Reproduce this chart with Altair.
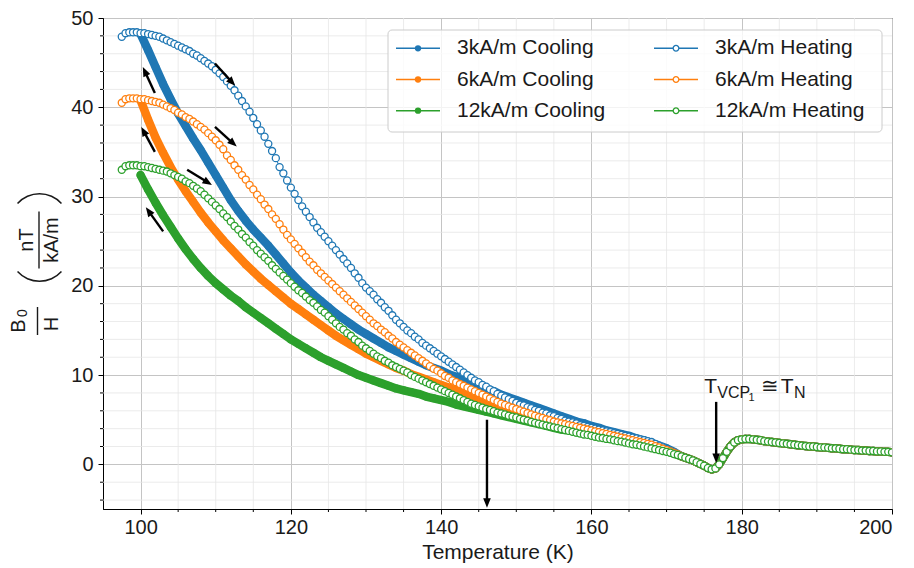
import math
import altair as alt
import pandas as pd

BLUE, ORANGE, GREEN = "#1f77b4", "#ff7f0e", "#2ca02c"
FONT = "Liberation Sans"
INK = "#1a1a1a"

# ---------------------------------------------------------------- data
# Temperature grids (K)
t_heat = [97.5 + 0.5 * i for i in range(149)]     # heating runs, 97.5 ... 171.5
t_cool = list(range(100, 172))                    # cooling runs, 100 ... 171
t_tail = [172.0 + 0.5 * i for i in range(57)]     # common part, 172 ... 200

# B0/H in nT/(kA/m) above 172 K, where all six runs coincide
tail = [
    0.9, 0.75, 0.6, 0.45, 0.25, 0.05, -0.15, -0.4, -0.55, -0.45,
    0.0, 0.7, 1.4, 2.0, 2.45, 2.7, 2.8, 2.85, 2.85, 2.8,
    2.75, 2.7, 2.6, 2.55, 2.5, 2.45, 2.4, 2.35, 2.3, 2.25,
    2.2, 2.15, 2.1, 2.05, 2.0, 2.0, 1.95, 1.9, 1.9, 1.85,
    1.8, 1.8, 1.75, 1.7, 1.7, 1.65, 1.6, 1.6, 1.55, 1.55,
    1.5, 1.5, 1.45, 1.45, 1.4, 1.4, 1.35,
]

heat_3 = [
    47.9, 48.3, 48.4, 48.4, 48.4,
    48.3, 48.3, 48.2, 48.1, 48.0, 47.9, 47.7, 47.5, 47.3, 47.1,
    46.9, 46.7, 46.5, 46.3, 46.0, 45.8, 45.5, 45.2, 44.9, 44.6,
    44.2, 43.8, 43.4, 42.9, 42.4, 41.9, 41.3, 40.7, 40.1, 39.5,
    38.8, 38.1, 37.4, 36.7, 35.9, 35.1, 34.3, 33.3, 32.6, 31.8,
    31.0, 30.3, 29.6, 28.9, 28.3, 27.7, 27.1, 26.5, 26.0, 25.5,
    25.0, 24.5, 24.0, 23.5, 23.0, 22.5, 22.0, 21.4, 20.9, 20.3,
    19.8, 19.4, 19.0, 18.5, 18.1, 17.6, 17.2, 16.7, 16.2, 15.8,
    15.4, 15.0, 14.7, 14.3, 14.0, 13.6, 13.3, 13.0, 12.7, 12.4,
    12.1, 11.8, 11.5, 11.2, 10.9, 10.6, 10.3, 10.0, 9.7, 9.4,
    9.2, 8.9, 8.7, 8.4, 8.2, 7.9, 7.7, 7.5, 7.3, 7.1,
    6.9, 6.7, 6.6, 6.4, 6.3, 6.1, 6.0, 5.8, 5.7, 5.5,
    5.4, 5.2, 5.1, 4.9, 4.8, 4.7, 4.6, 4.4, 4.3, 4.2,
    4.1, 4.0, 3.9, 3.8, 3.7, 3.6, 3.5, 3.4, 3.3, 3.2,
    3.1, 3.0, 2.9, 2.8, 2.7, 2.6, 2.5, 2.3, 2.1, 1.9,
    1.7, 1.5, 1.3, 1.1,
]

heat_6 = [
    40.5, 40.9, 41.0, 41.0, 41.0,
    40.9, 40.9, 40.8, 40.7, 40.6, 40.5, 40.3, 40.1, 39.9, 39.7,
    39.4, 39.2, 38.9, 38.7, 38.4, 38.1, 37.8, 37.5, 37.1, 36.7,
    36.3, 35.8, 35.3, 34.6, 34.1, 33.5, 33.0, 32.4, 31.9, 31.3,
    30.8, 30.2, 29.7, 29.1, 28.6, 28.0, 27.5, 26.9, 26.3, 25.7,
    25.2, 24.7, 24.2, 23.7, 23.2, 22.7, 22.3, 21.8, 21.4, 21.0,
    20.6, 20.2, 19.8, 19.4, 19.0, 18.6, 18.2, 17.8, 17.4, 17.0,
    16.6, 16.2, 15.8, 15.5, 15.1, 14.8, 14.4, 14.1, 13.7, 13.4,
    13.1, 12.8, 12.5, 12.2, 11.9, 11.6, 11.3, 11.0, 10.7, 10.5,
    10.2, 9.9, 9.7, 9.4, 9.2, 9.0, 8.8, 8.6, 8.4, 8.2,
    8.0, 7.8, 7.6, 7.4, 7.2, 7.0, 6.8, 6.65, 6.5, 6.35,
    6.2, 6.05, 5.9, 5.75, 5.6, 5.45, 5.3, 5.2, 5.05, 4.95,
    4.8, 4.7, 4.6, 4.5, 4.4, 4.3, 4.2, 4.1, 4.0, 3.9,
    3.8, 3.7, 3.6, 3.5, 3.4, 3.3, 3.2, 3.1, 3.0, 2.9,
    2.8, 2.7, 2.6, 2.5, 2.4, 2.3, 2.2, 2.05, 1.9, 1.75,
    1.6, 1.45, 1.25, 1.1,
]

heat_12 = [
    33.0, 33.4, 33.5, 33.5, 33.5,
    33.4, 33.4, 33.3, 33.2, 33.1, 33.0, 32.9, 32.8, 32.6, 32.4,
    32.2, 32.0, 31.7, 31.5, 31.2, 30.9, 30.6, 30.2, 29.8, 29.4,
    29.0, 28.6, 28.1, 27.7, 27.2, 26.7, 26.3, 25.8, 25.4, 24.9,
    24.5, 24.0, 23.6, 23.2, 22.8, 22.3, 21.9, 21.5, 21.1, 20.7,
    20.3, 19.9, 19.5, 19.2, 18.8, 18.4, 18.1, 17.7, 17.3, 17.0,
    16.6, 16.2, 15.8, 15.4, 15.1, 14.7, 14.4, 14.0, 13.7, 13.3,
    13.0, 12.7, 12.4, 12.1, 11.9, 11.6, 11.4, 11.1, 10.9, 10.7,
    10.5, 10.3, 10.0, 9.8, 9.6, 9.4, 9.2, 9.0, 8.8, 8.6,
    8.4, 8.2, 8.0, 7.8, 7.6, 7.4, 7.2, 7.0, 6.8, 6.65,
    6.5, 6.35, 6.2, 6.1, 5.95, 5.8, 5.7, 5.6, 5.45, 5.35,
    5.25, 5.1, 5.0, 4.9, 4.75, 4.65, 4.55, 4.45, 4.35, 4.25,
    4.15, 4.05, 3.95, 3.85, 3.75, 3.65, 3.55, 3.45, 3.35, 3.3,
    3.2, 3.1, 3.0, 2.95, 2.85, 2.8, 2.7, 2.6, 2.55, 2.45,
    2.35, 2.25, 2.2, 2.1, 2.0, 1.9, 1.8, 1.7, 1.6, 1.5,
    1.4, 1.3, 1.15, 1.05,
]

cool_3 = [
    48.2, 46.4, 44.5, 42.6, 40.9, 39.3, 37.9, 36.5, 35.2, 33.8,
    32.4, 31.0, 29.6, 28.4, 27.3, 26.3, 25.4, 24.5, 23.5, 22.5,
    21.5, 20.6, 19.8, 19.0, 18.3, 17.6, 16.9, 16.3, 15.7, 15.1,
    14.6, 14.1, 13.6, 13.1, 12.7, 12.3, 11.9, 11.5, 11.1, 10.8,
    10.5, 10.1, 9.8, 9.5, 9.2, 8.8, 8.5, 8.2, 7.8, 7.5,
    7.2, 6.9, 6.6, 6.3, 6.0, 5.7, 5.4, 5.1, 4.8, 4.6,
    4.3, 4.1, 3.8, 3.6, 3.4, 3.2, 2.9, 2.7, 2.4, 2.1,
    1.8, 1.4,
]

cool_6 = [
    40.8, 38.6, 36.6, 34.9, 33.3, 31.9, 30.6, 29.4, 28.2, 27.1,
    26.1, 25.1, 24.2, 23.3, 22.4, 21.6, 20.8, 20.1, 19.4, 18.7,
    18.0, 17.4, 16.8, 16.2, 15.6, 15.0, 14.4, 13.9, 13.4, 12.9,
    12.4, 12.0, 11.6, 11.2, 10.8, 10.5, 10.1, 9.8, 9.5, 9.2,
    8.9, 8.6, 8.3, 8.0, 7.7, 7.4, 7.1, 6.8, 6.5, 6.2,
    6.0, 5.7, 5.5, 5.2, 5.0, 4.8, 4.6, 4.4, 4.2, 4.0,
    3.8, 3.6, 3.4, 3.2, 3.0, 2.8, 2.6, 2.4, 2.2, 1.9,
    1.6, 1.3,
]

cool_12 = [
    32.4, 30.8, 29.3, 27.9, 26.6, 25.3, 24.1, 23.0, 22.0, 21.1,
    20.3, 19.6, 18.9, 18.3, 17.6, 17.0, 16.4, 15.8, 15.2, 14.6,
    14.0, 13.5, 13.0, 12.5, 12.0, 11.6, 11.2, 10.8, 10.4, 10.0,
    9.7, 9.4, 9.1, 8.8, 8.5, 8.3, 8.1, 7.9, 7.6, 7.4,
    7.2, 7.0, 6.7, 6.5, 6.3, 6.1, 5.9, 5.7, 5.5, 5.3,
    5.1, 4.9, 4.7, 4.5, 4.3, 4.1, 3.9, 3.8, 3.6, 3.5,
    3.3, 3.2, 3.0, 2.9, 2.7, 2.6, 2.4, 2.2, 2.0, 1.8,
    1.5, 1.2,
]

series = [
    ("3kA/m Cooling", BLUE, True, t_cool, cool_3),
    ("6kA/m Cooling", ORANGE, True, t_cool, cool_6),
    ("12kA/m Cooling", GREEN, True, t_cool, cool_12),
    ("3kA/m Heating", BLUE, False, t_heat, heat_3),
    ("6kA/m Heating", ORANGE, False, t_heat, heat_6),
    ("12kA/m Heating", GREEN, False, t_heat, heat_12),
]

# direction arrows: (T start, B start, T tip, B tip)
arrow_x0 = [101.9, 101.9, 103.0, 109.9, 109.9, 106.2, 146.1, 176.6]
arrow_y0 = [41.6, 35.0, 26.1, 44.9, 37.8, 33.0, 5.0, 7.0]
arrow_x1 = [100.3, 100.1, 100.7, 112.6, 112.8, 109.5, 146.1, 176.6]
arrow_y1 = [44.5, 37.8, 28.8, 42.4, 35.6, 31.3, -4.85, 0.15]

major_x = [100, 120, 140, 160, 180, 200]
minor_x = [105, 110, 115, 125, 130, 135, 145, 150, 155, 165, 170, 175, 185, 190, 195]
major_y = [0, 10, 20, 30, 40, 50]
minor_y = [-4, -2, 2, 4, 6, 8, 12, 14, 16, 18, 22, 24, 26, 28,
           32, 34, 36, 38, 42, 44, 46, 48]

# ---------------------------------------------------------------- layout
W, H = 789, 491
X_DOM, Y_DOM = (95, 200), (-5, 50)
PXK = W / (X_DOM[1] - X_DOM[0])
PXB = H / (Y_DOM[1] - Y_DOM[0])

XS = alt.Scale(domain=list(X_DOM), nice=False, zero=False)
YS = alt.Scale(domain=list(Y_DOM), nice=False, zero=False)

common_axis = dict(
    grid=True, gridColor="#c4c4c4", gridWidth=1,
    domainColor="black", domainWidth=1,
    tickColor="black", tickSize=5, tickWidth=1,
    labelFont=FONT, labelFontSize=20, labelColor=INK,
    format="d",
)
X_AX = alt.Axis(values=major_x, title="Temperature (K)", labelPadding=3,
                titleFont=FONT, titleFontSize=21, titleFontWeight="normal",
                titleColor=INK, titlePadding=4, **common_axis)
Y_AX = alt.Axis(values=major_y, title=None, labelPadding=5, **common_axis)


def xq(f):
    return alt.X(f"{f}:Q", scale=XS, axis=X_AX)


def yq(f):
    return alt.Y(f"{f}:Q", scale=YS, axis=Y_AX)


def px(f):
    return alt.X(f"{f}:Q", scale=None)


def py(f):
    return alt.Y(f"{f}:Q", scale=None)


layers = []

# minor grid
layers.append(alt.Chart(pd.DataFrame({"v": minor_x}))
              .mark_rule(color="#e6e6e6", strokeWidth=0.8).encode(x=xq("v")))
layers.append(alt.Chart(pd.DataFrame({"v": minor_y}))
              .mark_rule(color="#e6e6e6", strokeWidth=0.8).encode(y=yq("v")))

# measured curves: cooling = dense filled markers, heating = open markers
for label, col, cooling, t, vals in series:
    df = pd.DataFrame({"T": list(t) + t_tail, "B": list(vals) + tail})
    base = alt.Chart(df).encode(x=xq("T"), y=yq("B"))
    if cooling:
        layers.append(base.mark_line(color=col, strokeWidth=8.5, strokeCap="round",
                                     strokeJoin="round", clip=True))
        layers.append(base.mark_circle(color=col, size=62, opacity=1, clip=True))
    else:
        layers.append(base.mark_line(color=col, strokeWidth=1, clip=True))
        layers.append(base.mark_point(shape="circle", fill="white", fillOpacity=1,
                                      stroke=col, strokeWidth=1.3, size=50,
                                      opacity=1, clip=True))

# arrows
rows = []
for x0, y0, x1, y1 in zip(arrow_x0, arrow_y0, arrow_x1, arrow_y1):
    dxp, dyp = (x1 - x0) * PXK, (y1 - y0) * PXB
    L = math.hypot(dxp, dyp)
    ang = math.degrees(math.atan2(dxp, dyp)) % 360
    rows.append(dict(x0=x0, y0=y0, x1=x1, y1=y1,
                     xe=x1 - dxp / L * 6 / PXK, ye=y1 - dyp / L * 6 / PXB, ang=ang))
arrows = pd.DataFrame(rows)
layers.append(alt.Chart(arrows).mark_rule(color="black", strokeWidth=2.4)
              .encode(x=xq("x0"), y=yq("y0"), x2="xe:Q", y2="ye:Q"))
layers.append(alt.Chart(arrows)
              .mark_point(shape="M0,0L0.8,2L-0.8,2Z", filled=True, color="black",
                          size=90, opacity=1)
              .encode(x=xq("x1"), y=yq("y1"), angle=alt.Angle("ang:Q", scale=None)))

# transition label  T_VCP1 ≅ T_N
ann = pd.DataFrame({
    "txt": ["T", "VCP", "1", "≅", "T", "N"],
    "T": [175.0, 176.75, 180.9, 182.5, 185.2, 186.95],
    "B": [8.0, 7.4, 7.05, 8.0, 8.0, 7.4],
    "fs": [21, 16, 11, 21, 21, 16],
})
layers.append(alt.Chart(ann).mark_text(align="left", baseline="alphabetic",
                                       font=FONT, color=INK)
              .encode(x=xq("T"), y=yq("B"), text="txt:N",
                      size=alt.Size("fs:Q", scale=None)))

# legend
one = pd.DataFrame({"k": [0]})
layers.append(alt.Chart(one).mark_rect(fill="white", fillOpacity=0.8, stroke="#cccccc",
                                       strokeWidth=1, cornerRadius=4)
              .encode(x=alt.value(285), x2=alt.value(779),
                      y=alt.value(12), y2=alt.value(114)))
leg_rows = [30.3, 61.5, 92.7]
leg_cols = [315, 573]
leg = pd.DataFrame([
    dict(label=s[0], col=s[1], filled=s[2],
         lx=leg_cols[i // 3], ly=leg_rows[i % 3],
         xa=leg_cols[i // 3] - 22, xb=leg_cols[i // 3] + 22,
         xt=leg_cols[i // 3] + 39)
    for i, s in enumerate(series)
])
layers.append(alt.Chart(leg).mark_rule(strokeWidth=1.5)
              .encode(x=px("xa"), x2="xb:Q", y=py("ly"),
                      color=alt.Color("col:N", scale=None)))
layers.append(alt.Chart(leg[leg.filled]).mark_circle(size=40, opacity=1)
              .encode(x=px("lx"), y=py("ly"), color=alt.Color("col:N", scale=None)))
layers.append(alt.Chart(leg[~leg.filled])
              .mark_point(shape="circle", fill="white", fillOpacity=1,
                          strokeWidth=1.3, size=32, opacity=1)
              .encode(x=px("lx"), y=py("ly"), stroke=alt.Stroke("col:N", scale=None)))
layers.append(alt.Chart(leg).mark_text(align="left", baseline="middle", font=FONT,
                                       fontSize=21, color=INK)
              .encode(x=px("xt"), y=py("ly"), text="label:N"))

# y-axis title:  B0/H  ( nT / kA/m )
ytxt = pd.DataFrame({
    "txt": ["B", "0", "H", "nT", "kA/m"],
    "px": [-84.5, -80.5, -51.5, -76.0, -51.0],
    "py": [308.0, 295.0, 306.0, 222.0, 222.0],
    "fs": [20, 14, 20, 20, 20],
})
layers.append(alt.Chart(ytxt).mark_text(angle=270, align="center", baseline="middle",
                                        font=FONT, color=INK)
              .encode(x=px("px"), y=py("py"), text="txt:N",
                      size=alt.Size("fs:Q", scale=None)))
bars = pd.DataFrame({"px": [-65.5, -64.0], "y0": [289.0, 193.5], "y1": [317.0, 250.5]})
layers.append(alt.Chart(bars).mark_rule(color=INK, strokeWidth=1.4)
              .encode(x=px("px"), y=py("y0"), y2="y1:Q"))
half = math.radians(48)
layers.append(alt.Chart(one).mark_arc(color=INK, radius=30.3, radius2=28.8,
                                      theta=math.pi - half, theta2=math.pi + half)
              .encode(x=alt.value(-63.5), y=alt.value(233.7)))
layers.append(alt.Chart(one).mark_arc(color=INK, radius=30.3, radius2=28.8,
                                      theta=2 * math.pi - half, theta2=2 * math.pi + half)
              .encode(x=alt.value(-63.5), y=alt.value(205.3)))

# minor ticks
layers.append(alt.Chart(pd.DataFrame({"v": minor_x})).mark_rule(color="black", strokeWidth=1)
              .encode(x=xq("v"), y=alt.value(H), y2=alt.value(H + 3)))
layers.append(alt.Chart(pd.DataFrame({"v": minor_y})).mark_rule(color="black", strokeWidth=1)
              .encode(y=yq("v"), x=alt.value(-3), x2=alt.value(0)))

chart = (
    alt.layer(*layers)
    .properties(width=W, height=H,
                padding={"left": 103, "top": 18, "right": 22, "bottom": 59},
                autosize=alt.AutoSizeParams(type="none"),
                background="white")
    .configure_view(stroke="black", strokeWidth=1)
)

chart.save("out.html", embed_options={"renderer": "svg", "actions": False})
